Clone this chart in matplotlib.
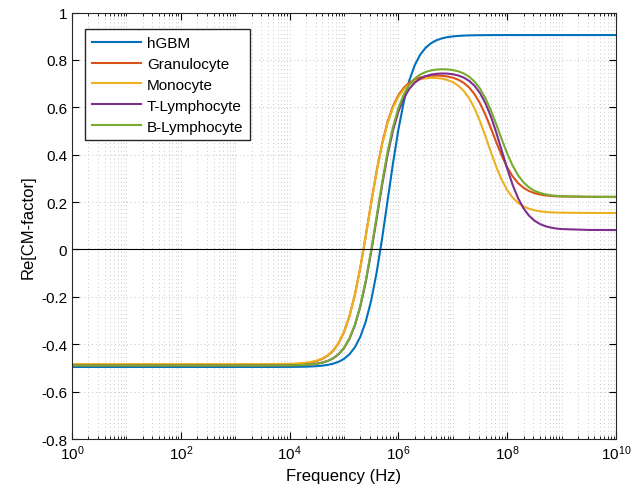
import matplotlib
matplotlib.use("Agg")
import matplotlib.pyplot as plt
import numpy as np
from matplotlib.ticker import LogLocator, NullFormatter, LogFormatterMathtext

plt.rcParams["font.family"] = ["Liberation Sans", "DejaVu Sans"]
plt.rcParams["mathtext.default"] = "regular"

log_f = [0, 1, 2, 3, 3.5,
         4.0, 4.1, 4.2, 4.3, 4.4, 4.5, 4.6, 4.7, 4.8, 4.9,
         5.0, 5.1, 5.2, 5.3, 5.4, 5.5, 5.6, 5.7, 5.8, 5.9,
         6.0, 6.1, 6.2, 6.3, 6.4, 6.5, 6.6, 6.7, 6.8, 6.9,
         7.0, 7.1, 7.2, 7.3, 7.4, 7.5, 7.6, 7.7, 7.8, 7.9,
         8.0, 8.1, 8.2, 8.3, 8.4, 8.5, 8.6, 8.7, 8.8, 8.9,
         9.0, 9.5, 10]

hgbm = [-0.496, -0.496, -0.496, -0.496, -0.496,
        -0.4956, -0.4954, -0.4951, -0.4946, -0.4938, -0.4925, -0.4904, -0.4872, -0.4821, -0.4741,
        -0.4617, -0.4423, -0.4129, -0.3686, -0.3043, -0.2147, -0.0971, 0.046, 0.2045, 0.363,
        0.5061, 0.6237, 0.7134, 0.7776, 0.8219, 0.8513, 0.8707, 0.8831, 0.8911, 0.8962,
        0.8994, 0.9015, 0.9027, 0.9036, 0.9042, 0.9044, 0.9046, 0.9048, 0.9049, 0.905,
        0.905, 0.905, 0.905, 0.905, 0.905, 0.905, 0.905, 0.905, 0.905, 0.905,
        0.905, 0.905, 0.905]
granulocyte = [-0.486, -0.486, -0.486, -0.486, -0.486,
               -0.4844, -0.4835, -0.4821, -0.4799, -0.4763, -0.4708, -0.4619, -0.4483, -0.4274, -0.3956,
               -0.3487, -0.2818, -0.1909, -0.076, 0.0576, 0.1984, 0.332, 0.4469, 0.5378, 0.6047,
               0.6514, 0.6831, 0.7039, 0.7172, 0.7258, 0.7306, 0.7333, 0.734, 0.7332, 0.7302,
               0.725, 0.7166, 0.7033, 0.6837, 0.6554, 0.617, 0.5684, 0.5118, 0.4522, 0.3956,
               0.347, 0.3085, 0.2801, 0.2603, 0.2468, 0.238, 0.2322, 0.2284, 0.2261, 0.2246,
               0.2237, 0.2222, 0.222]
monocyte = [-0.484, -0.484, -0.484, -0.484, -0.484,
            -0.4824, -0.4816, -0.4801, -0.4779, -0.4744, -0.4689, -0.4601, -0.4466, -0.4259, -0.3943,
            -0.3477, -0.2813, -0.1911, -0.077, 0.0557, 0.1953, 0.328, 0.4421, 0.5323, 0.5987,
            0.645, 0.6764, 0.6968, 0.7099, 0.718, 0.7225, 0.7243, 0.7239, 0.7212, 0.7156,
            0.7064, 0.6916, 0.6696, 0.6382, 0.5953, 0.541, 0.4778, 0.4112, 0.348, 0.2936,
            0.2506, 0.219, 0.1968, 0.1817, 0.1718, 0.1654, 0.1612, 0.1586, 0.1569, 0.1559,
            0.1552, 0.1541, 0.154]
t_lymph = [-0.49, -0.49, -0.49, -0.49, -0.49,
           -0.4892, -0.4888, -0.488, -0.4869, -0.4851, -0.4822, -0.4777, -0.4706, -0.4596, -0.4424,
           -0.4163, -0.3771, -0.3201, -0.2406, -0.1364, -0.0095, 0.131, 0.2715, 0.3984, 0.5026,
           0.5821, 0.6389, 0.678, 0.704, 0.7209, 0.7315, 0.738, 0.7415, 0.7428, 0.7423,
           0.7395, 0.7344, 0.7256, 0.7118, 0.6908, 0.6601, 0.6175, 0.5613, 0.4928, 0.417,
           0.3412, 0.2727, 0.2165, 0.1737, 0.1429, 0.1217, 0.1077, 0.0984, 0.0925, 0.0886,
           0.0862, 0.0824, 0.082]
b_lymph = [-0.49, -0.49, -0.49, -0.49, -0.49,
           -0.4892, -0.4887, -0.488, -0.4869, -0.485, -0.4821, -0.4775, -0.4703, -0.4591, -0.4417,
           -0.4153, -0.3755, -0.3176, -0.237, -0.1313, -0.0025, 0.14, 0.2825, 0.4113, 0.517,
           0.5976, 0.6553, 0.695, 0.7213, 0.7384, 0.7492, 0.7557, 0.7594, 0.7607, 0.7601,
           0.7573, 0.7519, 0.7431, 0.7292, 0.7084, 0.6787, 0.6382, 0.587, 0.5274, 0.4646,
           0.405, 0.3537, 0.3131, 0.2833, 0.2623, 0.2481, 0.2388, 0.2327, 0.2288, 0.2263,
           0.2247, 0.2223, 0.222]

series = [("hGBM", hgbm, "#0072BD"),
          ("Granulocyte", granulocyte, "#D95319"),
          ("Monocyte", monocyte, "#EDB120"),
          ("T-Lymphocyte", t_lymph, "#7E2F8E"),
          ("B-Lymphocyte", b_lymph, "#77AC30")]

freq = 10.0 ** np.array(log_f)

fig = plt.figure(figsize=(6.34, 5.02), dpi=100)
ax = fig.add_axes([0.1136, 0.1235, 0.858, 0.8495])

for name, vals, col in series:
    ax.plot(freq, vals, color=col, lw=1.5, label=name)
ax.axhline(0, color="k", lw=0.8)

ax.set_xscale("log")
ax.set_xlim(1, 1e10)
ax.set_ylim(-0.8, 1)
ax.set_xticks([10.0 ** k for k in range(0, 11, 2)])
ax.xaxis.set_major_formatter(LogFormatterMathtext())
ax.xaxis.set_minor_locator(LogLocator(base=10, subs=np.arange(1, 10), numticks=100))
ax.xaxis.set_minor_formatter(NullFormatter())
ax.set_yticks(np.arange(-0.8, 1.01, 0.2))
ax.set_yticklabels(["-0.8", "-0.6", "-0.4", "-0.2", "0", "0.2", "0.4", "0.6", "0.8", "1"])

ax.grid(which="both", axis="x", linestyle=(0, (1, 3)), color="#c8c8c8", lw=0.7)
ax.grid(which="major", axis="y", linestyle=(0, (1, 3)), color="#c8c8c8", lw=0.7)
ax.tick_params(which="both", direction="in", top=True, right=True, labelsize=11)
ax.tick_params(which="major", length=5)
ax.tick_params(which="minor", length=2.5)
for s in ax.spines.values():
    s.set_color("#262626")
    s.set_linewidth(0.8)

ax.set_xlabel("Frequency (Hz)", fontsize=12)
ax.set_ylabel("Re[CM-factor]", fontsize=12)
ax.legend(loc="upper left", bbox_to_anchor=(0.024, 0.961), borderaxespad=0, fontsize=11,
          fancybox=False, edgecolor="#262626", framealpha=1, handlelength=3.2,
          borderpad=0.45, labelspacing=0.45, handletextpad=0.4)

fig.savefig("out.png", dpi=100)
